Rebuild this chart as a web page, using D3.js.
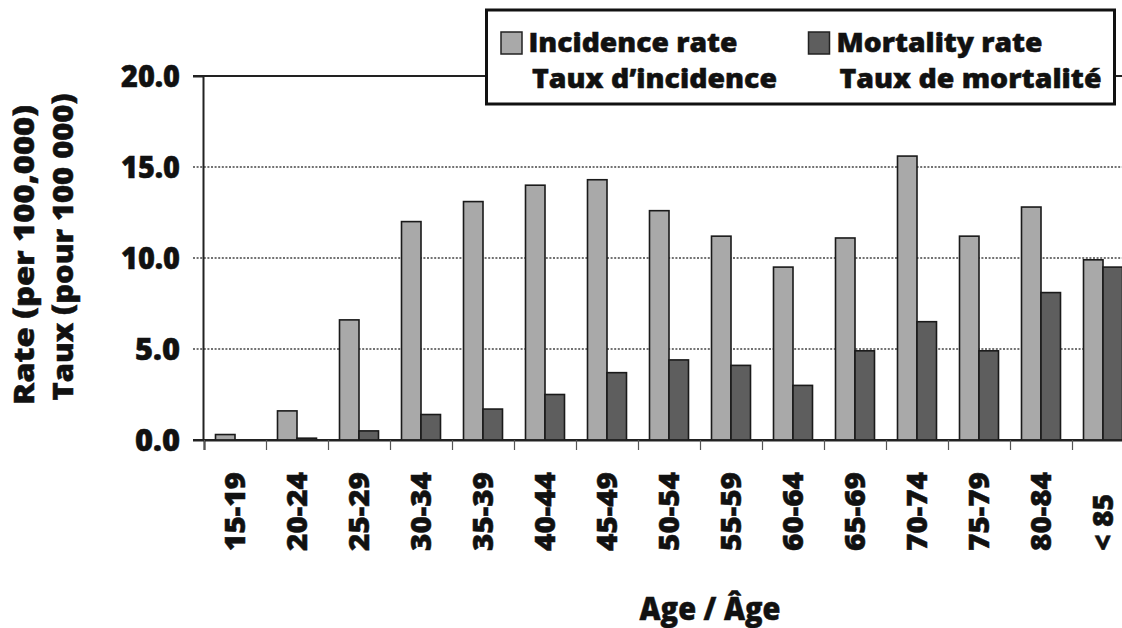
<!DOCTYPE html>
<html>
<head>
<meta charset="utf-8">
<script src="https://cdn.jsdelivr.net/npm/d3@7"></script>
<style>
  html, body { margin: 0; padding: 0; background: #fff; }
  svg { display: block; }
  text { font-family: "Open Sans", "Noto Sans", sans-serif; font-weight: 800; fill: #111;
         stroke: #111; stroke-width: 0.5px; }
</style>
</head>
<body>
<svg width="1122" height="628"></svg>
<script>
// age groups and rates (per 100 000)
const ageGroups = ["15-19", "20-24", "25-29", "30-34", "35-39", "40-44", "45-49", "50-54",
                   "55-59", "60-64", "65-69", "70-74", "75-79", "80-84", "< 85"];
const incidence = [0.3, 1.6, 6.6, 12.0, 13.1, 14.0, 14.3, 12.6, 11.2, 9.5, 11.1, 15.6, 11.2, 12.8, 9.9];
const mortality = [0.0, 0.1, 0.5, 1.4, 1.7, 2.5, 3.7, 4.4, 4.1, 3.0, 4.9, 6.5, 4.9, 8.1, 9.5];
const yTicks = [0, 5, 10, 15, 20];
const seriesNames = ["incidence", "mortality"];
const legendLabels = [["Incidence rate", "Taux d\u2019incidence"], ["Mortality rate", "Taux de mortalit\u00e9"]];

const colors = { incidence: "#a9a9a9", mortality: "#5e5e5e" };

const svg = d3.select("svg");

const plotL = 204, plotR = 1134, plotT = 76, plotB = 440;

const x = d3.scaleBand().domain(ageGroups).range([plotL, plotR]).padding(0);
const xSub = d3.scaleBand().domain(seriesNames).range([11.5, 50.5]).padding(0);
const y = d3.scaleLinear().domain([0, 20]).range([plotB, plotT]);

// stretch / squeeze a text to a given width
function fitText(sel, w) {
  sel.attr("textLength", w).attr("lengthAdjust", "spacingAndGlyphs");
}

// grid lines
svg.append("g")
  .selectAll("line")
  .data(yTicks)
  .join("line")
    .attr("x1", plotL - 11)
    .attr("x2", 1122)
    .attr("y1", d => y(d))
    .attr("y2", d => y(d))
    .attr("stroke", d => (d === 0 || d === 20) ? "#222" : "#444")
    .attr("stroke-width", d => (d === 0 || d === 20) ? 2 : 1.6)
    .attr("stroke-dasharray", d => (d === 0 || d === 20) ? null : "2,1.6");

// bars
const rows = ageGroups.map((g, i) => ({ group: g, incidence: incidence[i], mortality: mortality[i] }));

svg.append("g")
  .selectAll("g")
  .data(rows)
  .join("g")
    .attr("transform", d => `translate(${x(d.group)},0)`)
  .selectAll("rect")
  .data(d => seriesNames.map(s => ({ key: s, value: d[s] })).filter(d => d.value > 0))
  .join("rect")
    .attr("x", d => xSub(d.key))
    .attr("width", xSub.bandwidth())
    .attr("y", d => y(d.value))
    .attr("height", d => y(0) - y(d.value))
    .attr("fill", d => colors[d.key])
    .attr("stroke", "#1a1a1a")
    .attr("stroke-width", 1.6);

// y axis
const yAxis = svg.append("g")
  .attr("transform", `translate(${plotL - 1},0)`)
  .call(d3.axisLeft(y).tickValues(yTicks).tickFormat(d3.format(".1f")).tickSize(10).tickPadding(13));
yAxis.select(".domain").attr("stroke", "#222").attr("stroke-width", 2);
yAxis.selectAll(".tick line").attr("stroke", "none");
yAxis.selectAll(".tick text")
  .attr("font-size", 30)
  .attr("dy", "0.36em")
  .attr("font-family", "Open Sans")
  .style("font-weight", 800)
  .attr("fill", "#111")
  .each(function (d) { d3.select(this).call(fitText, d >= 10 ? 59 : 45); });

// x axis: baseline with ticks between the groups
const xEdges = d3.scaleLinear().domain([0, ageGroups.length]).range([plotL, plotR]);
const xAxis = svg.append("g")
  .attr("transform", `translate(0,${plotB})`)
  .call(d3.axisBottom(xEdges).tickValues(d3.range(ageGroups.length + 1)).tickFormat("").tickSize(10));
xAxis.select(".domain").attr("stroke", "#222").attr("stroke-width", 2);
xAxis.selectAll(".tick line").attr("stroke", "#555").attr("stroke-width", 1.2);

// x labels, rotated
svg.append("g")
  .selectAll("text")
  .data(ageGroups)
  .join("text")
    .attr("transform", d => `translate(${x(d) + x.bandwidth() / 2 + 10},551) rotate(-90)`)
    .attr("text-anchor", "start")
    .attr("font-size", 29)
    .text(d => d)
    .each(function (d) { d3.select(this).call(fitText, d === "< 85" ? 57 : 79); });

// axis titles
svg.append("text")
  .attr("x", 710).attr("y", 620)
  .attr("text-anchor", "middle")
  .attr("font-size", 31)
  .text("Age / \u00c2ge")
  .call(fitText, 141);

const yTitle = [["Rate (per 100,000)", 34, 255, 300], ["Taux (pour 100 000)", 73, 247, 307]];
svg.append("g")
  .selectAll("text")
  .data(yTitle)
  .join("text")
    .attr("transform", d => `translate(${d[1]},${d[2]}) rotate(-90)`)
    .attr("text-anchor", "middle")
    .attr("font-size", 28)
    .text(d => d[0])
    .each(function (d) { d3.select(this).call(fitText, d[3]); });

// legend
const legend = svg.append("g");
legend.append("rect")
  .attr("x", 486.5).attr("y", 10)
  .attr("width", 628).attr("height", 94)
  .attr("fill", "#fff")
  .attr("stroke", "#111")
  .attr("stroke-width", 3);

const legendPos = [
  { sw: 501, tx: [528.5, 532], w: [209, 245] },
  { sw: 808.5, tx: [836.5, 839.5], w: [206, 262] }
];

seriesNames.forEach((s, i) => {
  const p = legendPos[i];
  legend.append("rect")
    .attr("x", p.sw).attr("y", 32)
    .attr("width", 21).attr("height", 22)
    .attr("fill", colors[s])
    .attr("stroke", "#222")
    .attr("stroke-width", 1.5);
  legendLabels[i].forEach((t, j) => {
    legend.append("text")
      .attr("x", p.tx[j]).attr("y", j === 0 ? 52 : 87.5)
      .attr("font-size", 26)
      .text(t)
      .call(fitText, p.w[j]);
  });
});
</script>
</body>
</html>
